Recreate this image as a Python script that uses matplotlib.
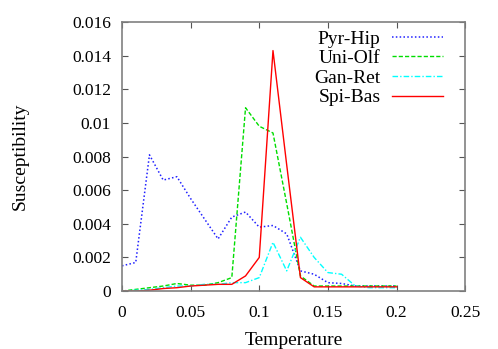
import matplotlib
matplotlib.use("Agg")
import matplotlib.pyplot as plt
import numpy as np

plt.rcParams['font.family'] = ['Liberation Serif', 'DejaVu Serif']

temperature = [0.00, 0.01, 0.02, 0.03, 0.04, 0.05, 0.06, 0.07, 0.08, 0.09, 0.10,
               0.11, 0.12, 0.13, 0.14, 0.15, 0.16, 0.17, 0.18, 0.19, 0.20]

pyr_hip = [0.0015, 0.0017, 0.0081, 0.0066, 0.0068, 0.0055, 0.0043, 0.0031, 0.0044, 0.0047, 0.0038,
           0.0039, 0.0034, 0.0012, 0.0010, 0.0005, 0.00045, 0.0003, 0.0003, 0.0003, 0.0003]
uni_olf = [0.0, 0.0001, 0.0002, 0.0003, 0.00045, 0.00035, 0.00035, 0.0005, 0.0008, 0.0109, 0.0098,
           0.0094, 0.0052, 0.0009, 0.0003, 0.0003, 0.0003, 0.0003, 0.0003, 0.0003, 0.0003]
gan_ret = [0.0, 0.00005, 0.0001, 0.0002, 0.0003, 0.0003, 0.0004, 0.0004, 0.0005, 0.0005, 0.0008,
           0.0029, 0.0012, 0.0032, 0.0020, 0.0011, 0.0010, 0.0003, 0.0002, 0.0002, 0.0002]
spi_bas = [0.0, 0.0, 0.00005, 0.00015, 0.0002, 0.0003, 0.00035, 0.0004, 0.0004, 0.0009, 0.0020,
           0.0143, 0.0075, 0.0008, 0.00025, 0.00025, 0.00025, 0.00025, 0.00025, 0.00025, 0.00025]

x_ticks = [0, 0.05, 0.1, 0.15, 0.2, 0.25]
x_tick_labels = ['0', '0.05', '0.1', '0.15', '0.2', '0.25']
y_ticks = [0, 0.002, 0.004, 0.006, 0.008, 0.01, 0.012, 0.014, 0.016]
y_tick_labels = ['0', '0.002', '0.004', '0.006', '0.008', '0.01', '0.012', '0.014', '0.016']

fig = plt.figure(figsize=(4.98, 3.49), dpi=100)
ax = fig.add_axes([0.245, 0.166, 0.689, 0.771])

ax.plot(temperature, pyr_hip, color='#2020ff', linestyle=(0, (1, 1.5)), lw=1.1, label='Pyr-Hip')
ax.plot(temperature, uni_olf, color='#00dd00', linestyle=(0, (3, 1.5)), lw=1.0, label='Uni-Olf')
ax.plot(temperature, gan_ret, color='#00ffff', linestyle=(0, (4, 1.5, 1, 1.5)), lw=1.0, label='Gan-Ret')
ax.plot(temperature, spi_bas, color='#ff0000', linestyle='-', lw=1.0, label='Spi-Bas')

ax.set_xlim(0, 0.25)
ax.set_ylim(0, 0.016)
ax.set_xticks(x_ticks)
ax.set_xticklabels(x_tick_labels)
ax.set_yticks(y_ticks)
ax.set_yticklabels(y_tick_labels)
ax.tick_params(direction='in', top=True, right=True, labelsize=12.5, length=4, width=0.8, color='#555555')
ax.tick_params(axis='x', pad=10)
ax.tick_params(axis='y', pad=8)
for s in ax.spines.values():
    s.set_color('#808080')
    s.set_linewidth(1.2)

ax.set_xlabel('Temperature', fontsize=14)
ax.set_ylabel('Susceptibility', fontsize=14)
ax.xaxis.set_label_coords(0.5, -0.182)
ax.yaxis.set_label_coords(-0.297, 0.5)
ax.xaxis.label.set_va('center')
ax.yaxis.label.set_va('center')

ax.legend(loc='upper right', frameon=False, fontsize=14, markerfirst=False,
          handlelength=2.6, handletextpad=0.6, labelspacing=0.1,
          borderpad=0.0, borderaxespad=0.0, bbox_to_anchor=(0.935, 0.97))

fig.savefig('out.png', dpi=100)
